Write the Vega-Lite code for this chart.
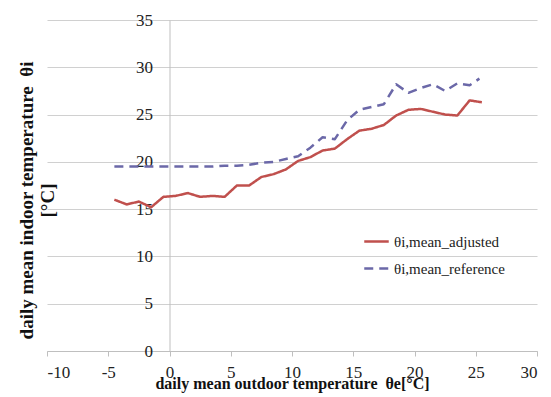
{
  "$schema": "https://vega.github.io/schema/vega-lite/v6.json",
  "autosize": "none",
  "width": 490,
  "height": 331,
  "padding": {"left": 47, "top": 20, "right": 14, "bottom": 46},
  "background": "white",
  "config": {"view": {"stroke": null}, "font": "Liberation Serif"},
  "data": {"values": [
    {"te": -4.5, "series": "θi,mean_adjusted", "ti": 16.0},
    {"te": -3.5, "series": "θi,mean_adjusted", "ti": 15.5},
    {"te": -2.5, "series": "θi,mean_adjusted", "ti": 15.8},
    {"te": -1.5, "series": "θi,mean_adjusted", "ti": 15.2},
    {"te": -0.5, "series": "θi,mean_adjusted", "ti": 16.3},
    {"te": 0.5, "series": "θi,mean_adjusted", "ti": 16.4},
    {"te": 1.5, "series": "θi,mean_adjusted", "ti": 16.7},
    {"te": 2.5, "series": "θi,mean_adjusted", "ti": 16.3},
    {"te": 3.5, "series": "θi,mean_adjusted", "ti": 16.4},
    {"te": 4.5, "series": "θi,mean_adjusted", "ti": 16.3},
    {"te": 5.5, "series": "θi,mean_adjusted", "ti": 17.5},
    {"te": 6.5, "series": "θi,mean_adjusted", "ti": 17.5},
    {"te": 7.5, "series": "θi,mean_adjusted", "ti": 18.4},
    {"te": 8.5, "series": "θi,mean_adjusted", "ti": 18.7},
    {"te": 9.5, "series": "θi,mean_adjusted", "ti": 19.2},
    {"te": 10.5, "series": "θi,mean_adjusted", "ti": 20.1},
    {"te": 11.5, "series": "θi,mean_adjusted", "ti": 20.5},
    {"te": 12.5, "series": "θi,mean_adjusted", "ti": 21.2},
    {"te": 13.5, "series": "θi,mean_adjusted", "ti": 21.4},
    {"te": 14.5, "series": "θi,mean_adjusted", "ti": 22.4},
    {"te": 15.5, "series": "θi,mean_adjusted", "ti": 23.3},
    {"te": 16.5, "series": "θi,mean_adjusted", "ti": 23.5},
    {"te": 17.5, "series": "θi,mean_adjusted", "ti": 23.9},
    {"te": 18.5, "series": "θi,mean_adjusted", "ti": 24.9},
    {"te": 19.5, "series": "θi,mean_adjusted", "ti": 25.5},
    {"te": 20.5, "series": "θi,mean_adjusted", "ti": 25.6},
    {"te": 21.5, "series": "θi,mean_adjusted", "ti": 25.3},
    {"te": 22.5, "series": "θi,mean_adjusted", "ti": 25.0},
    {"te": 23.5, "series": "θi,mean_adjusted", "ti": 24.9},
    {"te": 24.5, "series": "θi,mean_adjusted", "ti": 26.5},
    {"te": 25.5, "series": "θi,mean_adjusted", "ti": 26.3},
    {"te": -4.5, "series": "θi,mean_reference", "ti": 19.5},
    {"te": -3.5, "series": "θi,mean_reference", "ti": 19.5},
    {"te": -2.5, "series": "θi,mean_reference", "ti": 19.5},
    {"te": -1.5, "series": "θi,mean_reference", "ti": 19.5},
    {"te": -0.5, "series": "θi,mean_reference", "ti": 19.5},
    {"te": 0.5, "series": "θi,mean_reference", "ti": 19.5},
    {"te": 1.5, "series": "θi,mean_reference", "ti": 19.5},
    {"te": 2.5, "series": "θi,mean_reference", "ti": 19.5},
    {"te": 3.5, "series": "θi,mean_reference", "ti": 19.5},
    {"te": 4.5, "series": "θi,mean_reference", "ti": 19.6},
    {"te": 5.5, "series": "θi,mean_reference", "ti": 19.6},
    {"te": 6.5, "series": "θi,mean_reference", "ti": 19.7},
    {"te": 7.5, "series": "θi,mean_reference", "ti": 19.9},
    {"te": 8.5, "series": "θi,mean_reference", "ti": 20.0},
    {"te": 9.5, "series": "θi,mean_reference", "ti": 20.3},
    {"te": 10.5, "series": "θi,mean_reference", "ti": 20.6},
    {"te": 11.5, "series": "θi,mean_reference", "ti": 21.5},
    {"te": 12.5, "series": "θi,mean_reference", "ti": 22.6},
    {"te": 13.5, "series": "θi,mean_reference", "ti": 22.4},
    {"te": 14.5, "series": "θi,mean_reference", "ti": 24.4},
    {"te": 15.5, "series": "θi,mean_reference", "ti": 25.5},
    {"te": 16.5, "series": "θi,mean_reference", "ti": 25.8},
    {"te": 17.5, "series": "θi,mean_reference", "ti": 26.1},
    {"te": 18.5, "series": "θi,mean_reference", "ti": 28.2},
    {"te": 19.5, "series": "θi,mean_reference", "ti": 27.3},
    {"te": 20.5, "series": "θi,mean_reference", "ti": 27.8},
    {"te": 21.5, "series": "θi,mean_reference", "ti": 28.2},
    {"te": 22.5, "series": "θi,mean_reference", "ti": 27.5},
    {"te": 23.5, "series": "θi,mean_reference", "ti": 28.3},
    {"te": 24.5, "series": "θi,mean_reference", "ti": 28.1},
    {"te": 25.3, "series": "θi,mean_reference", "ti": 28.8}
  ]},
  "mark": {"type": "line", "strokeWidth": 2.5, "strokeJoin": "round"},
  "encoding": {
    "x": {
      "field": "te", "type": "quantitative",
      "scale": {"domain": [-10, 30], "nice": false},
      "axis": {
        "values": [-10, -5, 0, 5, 10, 15, 20, 25, 30],
        "labelExpr": "'' + datum.value",
        "grid": false,
        "domainColor": "#bfbfbf",
        "tickColor": "#bfbfbf",
        "tickSize": 5,
        "labelFont": "Liberation Serif",
        "labelFontSize": 17,
        "labelColor": "#222222",
        "labelPadding": 8,
        "title": "daily mean outdoor temperature \u00a0θe[°C]",
        "titleFont": "Liberation Serif",
        "titleFontSize": 16,
        "titleFontWeight": "bold",
        "titleColor": "#111111",
        "titleY": 37,
        "titleBaseline": "alphabetic"
      }
    },
    "y": {
      "field": "ti", "type": "quantitative",
      "scale": {"domain": [0, 35], "nice": false},
      "axis": {
        "values": [0, 5, 10, 15, 20, 25, 30, 35],
        "offset": -122.5,
        "grid": true,
        "gridColor": "#d0d0d0",
        "gridWidth": 1.2,
        "domainColor": "#bfbfbf",
        "ticks": false,
        "labelPadding": 17,
        "labelFont": "Liberation Serif",
        "labelFontSize": 17,
        "labelColor": "#222222",
        "title": ["daily mean indoor temperature \u00a0θi", "[°C]"],
        "titleFont": "Liberation Serif",
        "titleFontSize": 19,
        "titleFontWeight": "bold",
        "titleColor": "#111111",
        "titleLineHeight": 21,
        "titleAngle": -90,
        "titleX": -143,
        "titleY": 180,
        "titleAlign": "center",
        "titleBaseline": "middle"
      }
    },
    "color": {
      "field": "series", "type": "nominal",
      "scale": {"domain": ["θi,mean_adjusted", "θi,mean_reference"], "range": ["#c0504d", "#6b68a8"]},
      "legend": {
        "title": null,
        "orient": "none",
        "legendX": 316,
        "legendY": 208,
        "symbolType": "stroke",
        "symbolSize": 600,
        "symbolStrokeWidth": 2.5,
        "rowPadding": 5,
        "labelFont": "Liberation Serif",
        "labelFontSize": 15,
        "labelColor": "#222222",
        "labelOffset": 4
      }
    },
    "strokeDash": {
      "field": "series", "type": "nominal",
      "scale": {"domain": ["θi,mean_adjusted", "θi,mean_reference"], "range": [[1, 0], [9, 6]]}
    }
  }
}
